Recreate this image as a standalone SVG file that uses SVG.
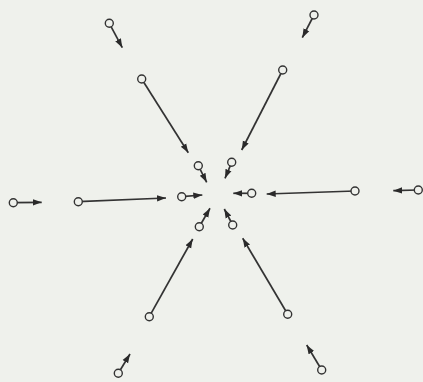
<svg xmlns="http://www.w3.org/2000/svg" width="423" height="382" viewBox="0 0 423 382">
<style>
.c{fill:none;stroke:#333;stroke-width:1.7;marker-end:url(#ah)}
.n{fill:#eff1ec;stroke:#333;stroke-width:1.4}
</style>
<defs>
<marker id="ah" markerUnits="userSpaceOnUse" markerWidth="10" markerHeight="8" refX="9" refY="4" orient="auto">
<path d="M0,0.8 L9,4 L0,7.2 z" fill="#2a2a2a"/>
</marker>
</defs>
<rect width="423" height="382" fill="#eff1ec"/>
<g id="connectors">
<line class="c" x1="109.3" y1="23.3" x2="122.3" y2="47.7"/>
<line class="c" x1="314" y1="15" x2="302.3" y2="37.7"/>
<line class="c" x1="141.7" y1="79" x2="188.3" y2="152.7"/>
<line class="c" x1="282.7" y1="70" x2="241.7" y2="150"/>
<line class="c" x1="13.3" y1="202.7" x2="41.7" y2="202.3"/>
<line class="c" x1="78.3" y1="201.7" x2="166" y2="198"/>
<line class="c" x1="355" y1="191" x2="266.7" y2="194"/>
<line class="c" x1="418.3" y1="190" x2="393.3" y2="190.7"/>
<line class="c" x1="149.3" y1="316.7" x2="192.7" y2="239"/>
<line class="c" x1="287.7" y1="314.3" x2="242.7" y2="238.3"/>
<line class="c" x1="118.3" y1="373.3" x2="130" y2="354"/>
<line class="c" x1="321.7" y1="370" x2="306.7" y2="345"/>
<line class="c" x1="198.3" y1="165.7" x2="206.7" y2="182.3"/>
<line class="c" x1="231.7" y1="162.3" x2="225" y2="178.3"/>
<line class="c" x1="181.7" y1="196.7" x2="202.3" y2="195"/>
<line class="c" x1="251.7" y1="193.3" x2="233.3" y2="193.3"/>
<line class="c" x1="199.3" y1="226.7" x2="210" y2="208.3"/>
<line class="c" x1="232.7" y1="225" x2="224.3" y2="209"/>
</g>
<g id="n1"><circle class="n" cx="109.3" cy="23.3" r="4"/></g>
<g id="n2"><circle class="n" cx="314" cy="15" r="4"/></g>
<g id="n3"><circle class="n" cx="141.7" cy="79" r="4"/></g>
<g id="n4"><circle class="n" cx="282.7" cy="70" r="4"/></g>
<g id="n5"><circle class="n" cx="13.3" cy="202.7" r="4"/></g>
<g id="n6"><circle class="n" cx="78.3" cy="201.7" r="4"/></g>
<g id="n7"><circle class="n" cx="355" cy="191" r="4"/></g>
<g id="n8"><circle class="n" cx="418.3" cy="190" r="4"/></g>
<g id="n9"><circle class="n" cx="149.3" cy="316.7" r="4"/></g>
<g id="n10"><circle class="n" cx="287.7" cy="314.3" r="4"/></g>
<g id="n11"><circle class="n" cx="118.3" cy="373.3" r="4"/></g>
<g id="n12"><circle class="n" cx="321.7" cy="370" r="4"/></g>
<g id="n13"><circle class="n" cx="198.3" cy="165.7" r="4"/></g>
<g id="n14"><circle class="n" cx="231.7" cy="162.3" r="4"/></g>
<g id="n15"><circle class="n" cx="181.7" cy="196.7" r="4"/></g>
<g id="n16"><circle class="n" cx="251.7" cy="193.3" r="4"/></g>
<g id="n17"><circle class="n" cx="199.3" cy="226.7" r="4"/></g>
<g id="n18"><circle class="n" cx="232.7" cy="225" r="4"/></g>
</svg>
